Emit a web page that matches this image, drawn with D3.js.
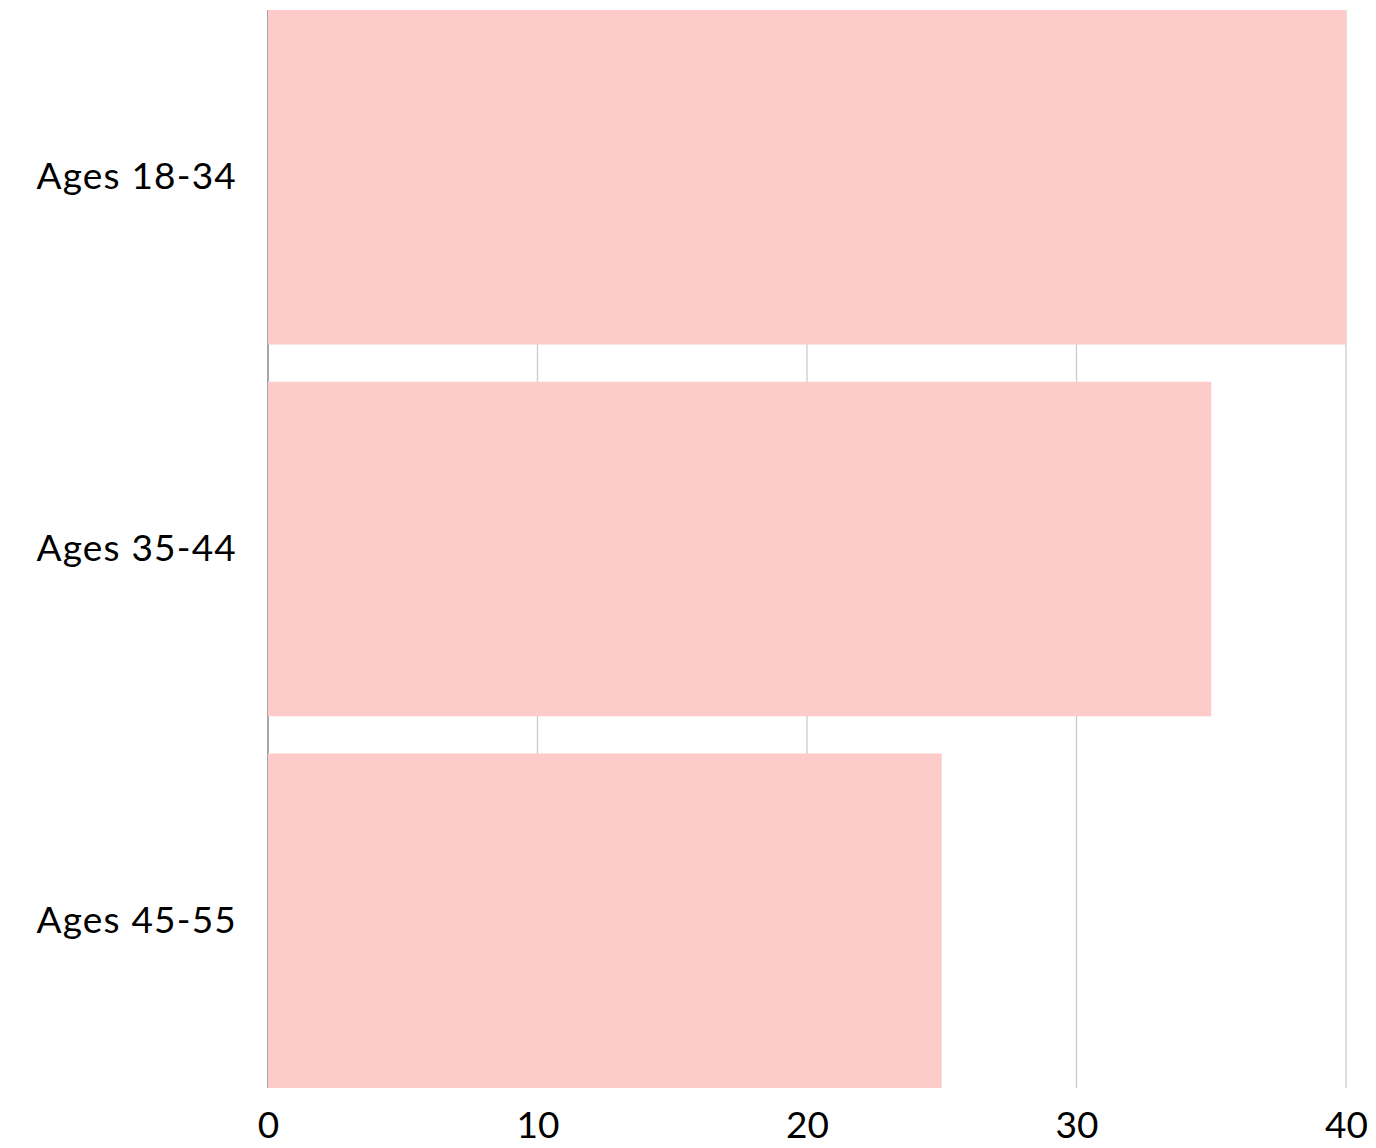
<!DOCTYPE html>
<html>
<head>
<meta charset="utf-8">
<script src="https://cdn.jsdelivr.net/npm/d3@7"></script>
<style>
  html, body { margin: 0; padding: 0; background: #fff; }
  svg text { font-family: "Lato", "Open Sans", sans-serif; fill: #000; }
</style>
</head>
<body>
<svg id="chart" width="1376" height="1148"></svg>
<script>
// Age groups and their values
const categories = ["Ages 18-34", "Ages 35-44", "Ages 45-55"];
const values = [40, 35, 25];
const xTicks = [0, 10, 20, 30, 40];

const width = 1376, height = 1148;
const margin = { top: 10, right: 30, bottom: 60, left: 268 };

const svg = d3.select("#chart");

const x = d3.scaleLinear()
  .domain([0, 40])
  .range([margin.left, width - margin.right]);

const y = d3.scaleBand()
  .domain(categories)
  .range([margin.top, height - margin.bottom])
  .paddingInner(0.1)
  .paddingOuter(0);

// Vertical gridlines
svg.append("g")
  .selectAll("line")
  .data(xTicks.slice(1))
  .join("line")
  .attr("x1", d => x(d)).attr("x2", d => x(d))
  .attr("y1", margin.top).attr("y2", height - margin.bottom)
  .attr("stroke", "#cccccc")
  .attr("stroke-width", 1.3);

// Baseline at zero
svg.append("line")
  .attr("x1", x(0)).attr("x2", x(0))
  .attr("y1", margin.top).attr("y2", height - margin.bottom)
  .attr("stroke", "#777777")
  .attr("stroke-width", 1.3);

// Bars
svg.append("g")
  .selectAll("rect")
  .data(categories.map((c, i) => ({ c, v: values[i] })))
  .join("rect")
  .attr("x", x(0))
  .attr("y", d => y(d.c))
  .attr("width", d => x(d.v) - x(0))
  .attr("height", y.bandwidth())
  .attr("fill", "#fecbcb");

// Category labels
const yAxis = svg.append("g")
  .attr("transform", `translate(${x(0)},0)`)
  .call(d3.axisLeft(y).tickSize(0).tickPadding(31));
yAxis.select(".domain").remove();
yAxis.selectAll("text")
  .style("font-size", "37px")
  .style("letter-spacing", "1.2px")
  .attr("fill", "#000");

// Value axis labels
const xAxis = svg.append("g")
  .attr("transform", `translate(0,${height - margin.bottom})`)
  .call(d3.axisBottom(x).tickValues(xTicks).tickSize(0).tickPadding(24));
xAxis.select(".domain").remove();
xAxis.selectAll("text")
  .style("font-size", "37px")
  .attr("fill", "#000");
</script>
</body>
</html>
